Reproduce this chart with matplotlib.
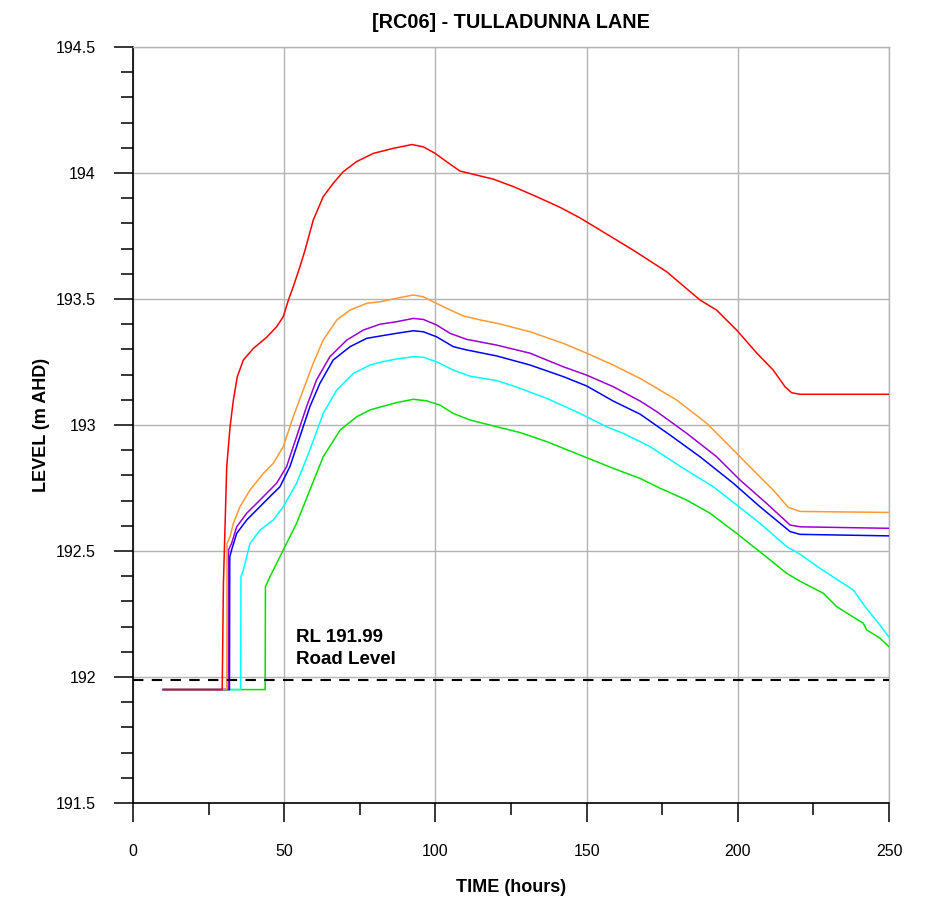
import matplotlib
matplotlib.use("Agg")
import matplotlib.pyplot as plt
from matplotlib.ticker import MultipleLocator, FormatStrFormatter

plt.rcParams['font.family'] = ['Liberation Sans', 'DejaVu Sans']

title = "[RC06] - TULLADUNNA LANE"
xlabel = "TIME (hours)"
ylabel = "LEVEL (m AHD)"
road_level = 191.99
road_text = "RL 191.99\nRoad Level"

red_t = [10, 29.5, 29.9, 31.0, 32.1, 33.2, 34.5, 36.5, 39.8, 44.2, 47.5, 49.7, 51.4, 53.0, 55.2,
         56.9, 59.6, 62.9, 66.2, 69.5, 73.9, 79.5, 86.1, 92.2, 96.0, 99.9, 103.7, 108.1, 112.5,
         119.1, 125.8, 133.5, 141.2, 147.8, 154.4, 165.4, 176.5, 187.5, 193.0, 199.6, 206.3,
         211.7, 215.6, 217.8, 220.6, 250]
red_l = [191.95, 191.95, 192.37, 192.835, 192.993, 193.099, 193.192, 193.258, 193.304, 193.348,
         193.39, 193.43, 193.496, 193.549, 193.628, 193.694, 193.813, 193.906, 193.959, 194.005,
         194.045, 194.078, 194.098, 194.113, 194.104, 194.078, 194.045, 194.008, 193.995, 193.976,
         193.946, 193.906, 193.864, 193.822, 193.774, 193.694, 193.608, 193.496, 193.456, 193.377,
         193.285, 193.218, 193.152, 193.128, 193.122, 193.122]

orange_t = [10, 31.0, 31.1, 32.1, 33.2, 35.4, 38.7, 43.1, 46.4, 49.7, 53.0, 56.3, 59.6, 62.9, 67.4,
            71.8, 77.3, 81.7, 87.2, 92.7, 96.0, 99.3, 103.7, 109.2, 114.8, 120.3, 131.3, 142.3,
            150.0, 158.8, 167.7, 179.8, 189.7, 198.5, 205.1, 211.7, 216.7, 220.6, 250]
orange_l = [191.95, 191.95, 192.53, 192.557, 192.61, 192.676, 192.742, 192.808, 192.848, 192.914,
            193.033, 193.139, 193.245, 193.337, 193.417, 193.456, 193.483, 193.489, 193.503,
            193.516, 193.509, 193.489, 193.463, 193.433, 193.417, 193.404, 193.37, 193.324,
            193.285, 193.238, 193.185, 193.099, 193.007, 192.901, 192.821, 192.742, 192.673,
            192.657, 192.653]

purple_t = [10, 31.5, 31.6, 32.6, 34.3, 37.6, 40.9, 44.2, 47.5, 50.8, 54.1, 57.4, 60.7, 65.1, 70.7,
            76.2, 81.7, 87.2, 92.7, 96.0, 100.4, 104.8, 110.3, 120.3, 131.3, 142.3, 150.0, 158.8,
            167.7, 173.2, 183.1, 193.0, 200.7, 209.5, 217.3, 220.6, 250]
purple_l = [191.95, 191.95, 192.504, 192.53, 192.596, 192.65, 192.689, 192.729, 192.769, 192.835,
            192.954, 193.073, 193.179, 193.271, 193.337, 193.377, 193.40, 193.41, 193.423,
            193.419, 193.397, 193.364, 193.34, 193.317, 193.285, 193.231, 193.198, 193.152,
            193.095, 193.053, 192.967, 192.874, 192.782, 192.689, 192.603, 192.596, 192.59]

blue_t = [10, 31.9, 32.0, 32.6, 34.3, 37.6, 40.9, 45.3, 48.6, 51.9, 55.2, 58.5, 61.8, 66.2, 71.8,
          77.3, 81.7, 87.2, 92.7, 96.0, 100.4, 105.9, 110.3, 120.3, 131.3, 142.3, 150.0, 158.8,
          167.7, 177.6, 187.5, 198.5, 207.3, 217.3, 220.6, 250]
blue_l = [191.95, 191.95, 192.477, 192.504, 192.57, 192.623, 192.663, 192.716, 192.755, 192.835,
          192.954, 193.073, 193.165, 193.258, 193.311, 193.344, 193.353, 193.364, 193.374,
          193.37, 193.35, 193.311, 193.298, 193.274, 193.238, 193.192, 193.155, 193.095,
          193.043, 192.96, 192.874, 192.769, 192.676, 192.577, 192.566, 192.56]

cyan_t = [10, 35.6, 35.7, 36.5, 38.7, 42.0, 46.4, 49.7, 54.1, 58.5, 62.9, 67.4, 72.9, 78.4, 81.7,
          87.2, 92.7, 96.0, 100.4, 105.9, 111.4, 120.3, 125.8, 136.8, 147.8, 156.6, 162.1, 171.0,
          182.0, 191.9, 199.6, 207.3, 216.2, 220.6, 227.2, 238.2, 242.1, 247.0, 250]
cyan_l = [191.95, 191.95, 192.398, 192.425, 192.53, 192.583, 192.623, 192.676, 192.769, 192.901,
          193.046, 193.139, 193.205, 193.238, 193.249, 193.262, 193.271, 193.269, 193.251,
          193.218, 193.194, 193.176, 193.155, 193.106, 193.046, 192.993, 192.967, 192.914,
          192.828, 192.755, 192.683, 192.61, 192.517, 192.487, 192.431, 192.345, 192.279,
          192.206, 192.158]

green_t = [10, 43.7, 43.8, 45.3, 49.7, 54.1, 58.5, 62.9, 68.5, 74.0, 78.4, 81.7, 87.2, 92.7, 97.1,
           101.5, 105.9, 111.4, 120.3, 128.0, 136.8, 147.8, 158.8, 167.7, 174.3, 183.1, 190.8,
           199.6, 207.3, 216.2, 220.6, 228.3, 232.7, 241.5, 242.6, 247.0, 250]
green_l = [191.95, 191.95, 192.358, 192.398, 192.504, 192.61, 192.742, 192.874, 192.98, 193.033,
           193.06, 193.071, 193.089, 193.102, 193.096, 193.079, 193.046, 193.02, 192.993, 192.97,
           192.934, 192.881, 192.828, 192.788, 192.749, 192.702, 192.65, 192.57, 192.497,
           192.411, 192.38, 192.332, 192.279, 192.213, 192.187, 192.154, 192.12]

series = [
    (green_t, green_l, '#00e000'),
    (cyan_t, cyan_l, '#00ffff'),
    (blue_t, blue_l, '#0000ff'),
    (purple_t, purple_l, '#9a00d0'),
    (orange_t, orange_l, '#ff9933'),
    (red_t, red_l, '#ff0000'),
]

fig = plt.figure(figsize=(9.28, 9.01), dpi=100)
ax = fig.add_axes([0.1433, 0.1088, 0.8147, 0.839])

for t, l, c in series:
    ax.plot(t, l, color=c, lw=1.1, zorder=3)

ax.axhline(road_level, color='black', lw=1.5, linestyle=(0, (5, 4)), zorder=4)
ax.text(54, 192.19, road_text, fontsize=13.5, fontweight='bold', va='top', ha='left',
        linespacing=1.38, zorder=5)

ax.set_xlim(0, 250)
ax.set_ylim(191.5, 194.5)
ax.xaxis.set_major_locator(MultipleLocator(50))
ax.xaxis.set_minor_locator(MultipleLocator(25))
ax.yaxis.set_major_locator(MultipleLocator(0.5))
ax.yaxis.set_minor_locator(MultipleLocator(0.1))
ax.yaxis.set_major_formatter(FormatStrFormatter('%g'))

ax.grid(True, which='major', color='#b4b4b4', lw=1.0, zorder=1)
ax.set_axisbelow(True)
for s in ['top', 'right']:
    ax.spines[s].set_color('#b4b4b4')
    ax.spines[s].set_linewidth(1.0)
for s in ['left', 'bottom']:
    ax.spines[s].set_color('black')
    ax.spines[s].set_linewidth(1.2)

ax.tick_params(which='major', direction='out', length=13.7, width=1.1, labelsize=11.5)
ax.tick_params(which='minor', direction='out', length=8.6, width=1.1)
ax.tick_params(axis='x', which='major', pad=16)
ax.tick_params(axis='y', which='major', pad=13)

ax.set_title(title, fontsize=14.3, fontweight='bold', pad=14)
ax.set_xlabel(xlabel, fontsize=13, fontweight='bold', labelpad=14)
ax.set_ylabel(ylabel, fontsize=13, fontweight='bold', labelpad=4)

fig.savefig('out.png', dpi=100)
